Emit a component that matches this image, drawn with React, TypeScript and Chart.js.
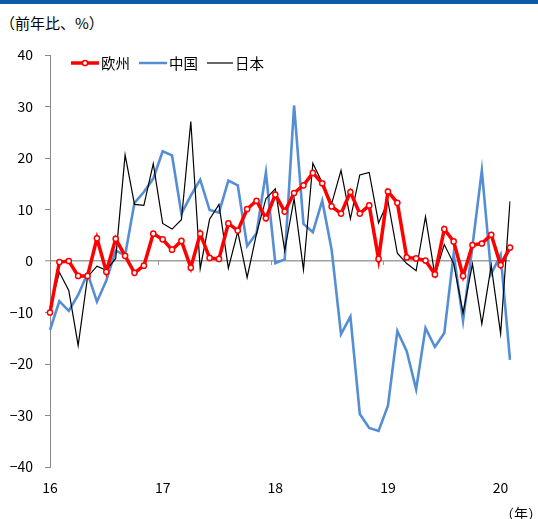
import React, { useEffect, useRef } from "react";
import { Chart, registerables } from "chart.js";

Chart.register(...registerables);

const MONTHS: string[] = [
  "2016-01","2016-02","2016-03","2016-04","2016-05","2016-06","2016-07","2016-08","2016-09","2016-10","2016-11","2016-12",
  "2017-01","2017-02","2017-03","2017-04","2017-05","2017-06","2017-07","2017-08","2017-09","2017-10","2017-11","2017-12",
  "2018-01","2018-02","2018-03","2018-04","2018-05","2018-06","2018-07","2018-08","2018-09","2018-10","2018-11","2018-12",
  "2019-01","2019-02","2019-03","2019-04","2019-05","2019-06","2019-07","2019-08","2019-09","2019-10","2019-11","2019-12",
  "2020-01","2020-02",
];

const EUROPE: number[] = [
  -10, -0.2, 0, -2.9, -2.9, 4.4, -2.1, 4.3, 1.0, -2.3,
  -0.9, 5.3, 4.2, 2.2, 3.9, -1.3, 5.3, 0.6, 0.4, 7.3,
  5.9, 10.1, 11.7, 8.3, 12.9, 9.6, 13.2, 14.7, 17.1, 15.1,
  10.6, 9.2, 13.4, 9.2, 10.8, 0.4, 13.5, 11.3, 0.7, 0.5,
  0.1, -2.6, 6.2, 3.8, -2.9, 3.1, 3.4, 5.1, -0.8, 2.6,
];

const CHINA: number[] = [
  -13.4, -7.8, -9.7, -6.6, -2.4, -7.9, -3.8, 2.0, 1.1, 11.3,
  13.4, 16.0, 21.3, 20.5, 9.2, 12.7, 15.8, 9.9, 9.4, 15.6,
  14.7, 2.9, 5.4, 17.2, -0.4, 0.3, 30.2, 7.2, 5.6, 11.7,
  2.2, -14.2, -10.8, -29.7, -32.4, -33.0, -28.1, -13.6, -17.5, -24.9,
  -13.0, -16.7, -14.0, 1.4, -11.6, 2.9, 17.6, -2.5, 1.2, -19.2,
];

const JAPAN: number[] = [
  -9, -2.2, -5.7, -16.4, -3.1, -1.0, -1.8, 0.5, 20.6, 11.0,
  10.8, 18.9, 7.3, 6.2, 8.0, 27.1, -1.5, 8.1, 11.0, -1.4,
  5.7, -3.2, 5.3, 12.1, 14.0, 2.0, 12.1, -1.7, 19.0, 15.2,
  11.1, 17.6, 8.2, 16.7, 17.2, 7.4, 11.6, 1.5, -0.5, -1.9,
  8.6, -2.8, 3.2, -0.5, -10.1, -0.6, -12.2, -0.9, -14.1, 11.6,
];

const SERIES_NAMES = ["欧州", "中国", "日本"];
const Y_MIN = -40;
const Y_MAX = 40;
const Y_STEP = 10;
const YEAR_TICK_EVERY = 12;

const FONT = "'Noto Sans CJK JP', 'Noto Sans', sans-serif";
const RED = "#ff0000";
const BLUE = "#558ed5";
const BLACK = "#000000";

const zeroTicksPlugin = {
  id: "zeroTicks",
  beforeDatasetsDraw(chart: any) {
    const xs = chart.scales.x;
    const ys = chart.scales.y;
    const ctx = chart.ctx;
    const y0 = ys.getPixelForValue(0);
    ctx.save();
    ctx.strokeStyle = "#999";
    ctx.lineWidth = 1;
    for (let k = YEAR_TICK_EVERY; k < MONTHS.length; k += YEAR_TICK_EVERY) {
      const x = Math.round((xs.getPixelForValue(k - 1) + xs.getPixelForValue(k)) / 2) + 0.5;
      ctx.beginPath();
      ctx.moveTo(x, y0);
      ctx.lineTo(x, y0 + 4);
      ctx.stroke();
    }
    ctx.restore();
  },
};

const legendPlugin = {
  id: "customLegend",
  afterDraw(chart: any) {
    const ctx = chart.ctx;
    const area = chart.chartArea;
    const y = area.top + 8;
    let x = area.left + 21;
    ctx.save();
    ctx.font = `14.5px ${FONT}`;
    ctx.textBaseline = "middle";
    chart.data.datasets.forEach((ds: any, i: number) => {
      const segW = i === 2 ? 26 : 28;
      ctx.strokeStyle = ds.borderColor;
      ctx.lineWidth = i === 0 ? 3.5 : i === 1 ? 2.5 : 1.2;
      ctx.beginPath();
      ctx.moveTo(x, y);
      ctx.lineTo(x + segW, y);
      ctx.stroke();
      if (i === 0) {
        ctx.beginPath();
        ctx.arc(x + segW / 2, y, 2.6, 0, Math.PI * 2);
        ctx.fillStyle = "#fff";
        ctx.fill();
        ctx.lineWidth = 1.5;
        ctx.strokeStyle = ds.borderColor;
        ctx.stroke();
      }
      ctx.fillStyle = "#000";
      ctx.fillText(ds.label, x + segW + 2, y + 0.5);
      const tw = ctx.measureText(ds.label).width;
      x += segW + 2 + tw + 9;
    });
    ctx.restore();
  },
};

export default function App() {
  const canvasRef = useRef<HTMLCanvasElement | null>(null);

  useEffect(() => {
    if (!canvasRef.current) return;
    const chart = new Chart(canvasRef.current, {
      type: "line",
      data: {
        labels: MONTHS,
        datasets: [
          {
            label: SERIES_NAMES[0],
            data: EUROPE,
            borderColor: RED,
            backgroundColor: RED,
            borderWidth: 3.5,
            pointRadius: 2.6,
            pointBorderWidth: 1.5,
            pointBackgroundColor: "#ffffff",
            pointBorderColor: RED,
            tension: 0,
            order: 0,
          },
          {
            label: SERIES_NAMES[1],
            data: CHINA,
            borderColor: BLUE,
            backgroundColor: BLUE,
            borderWidth: 2.6,
            pointRadius: 0,
            tension: 0,
            order: 2,
          },
          {
            label: SERIES_NAMES[2],
            data: JAPAN,
            borderColor: BLACK,
            backgroundColor: BLACK,
            borderWidth: 1.2,
            pointRadius: 0,
            tension: 0,
            order: 1,
          },
        ],
      },
      options: {
        responsive: false,
        animation: false,
        layout: { padding: { top: 55, right: 28, bottom: 0, left: 0 } },
        plugins: {
          legend: { display: false },
          tooltip: { enabled: false },
          title: { display: false },
        },
        scales: {
          x: {
            type: "category",
            grid: { display: false, drawTicks: false },
            border: { display: false },
            ticks: {
              autoSkip: false,
              maxRotation: 0,
              minRotation: 0,
              padding: 12,
              color: "#000",
              font: { family: FONT, size: 14 },
              callback: (_v: any, i: number) =>
                i % YEAR_TICK_EVERY === 0 ? MONTHS[i].slice(2, 4) : "",
            },
            afterFit: (s: any) => {
              s.height = 52;
            },
          },
          y: {
            min: Y_MIN,
            max: Y_MAX,
            ticks: {
              stepSize: Y_STEP,
              padding: 12,
              color: "#000",
              font: { family: FONT, size: 14 },
              callback: (v: any) => (Number(v) < 0 ? "\u2212" + Math.abs(Number(v)) : String(v)),
            },
            grid: {
              color: (c: any) => (c.tick && c.tick.value === 0 ? "#a0a0a0" : "rgba(0,0,0,0)"),
              lineWidth: (c: any) => (c.tick && c.tick.value === 0 ? 1.5 : 1),
              tickColor: "#888",
              tickLength: 5,
              tickWidth: 1,
            },
            border: { display: true, color: "#888", width: 1 },
            afterFit: (s: any) => {
              s.width = 50;
            },
          },
        },
      },
      plugins: [zeroTicksPlugin, legendPlugin],
    });
    return () => chart.destroy();
  }, []);

  return (
    <div style={{ position: "fixed", left: 0, top: 0, width: 538, height: 519, background: "#fff", fontFamily: FONT, overflow: "hidden" }}>
      <div style={{ position: "absolute", left: 0, top: 0, width: 538, height: 4, background: "#0a5aa8" }} />
      <div style={{ position: "absolute", left: 0, top: 13, fontSize: 15, lineHeight: "20px", color: "#000", whiteSpace: "nowrap" }}>
        （前年比、%）
      </div>
      <canvas ref={canvasRef} width={538} height={519} style={{ position: "absolute", left: 0, top: 0, display: "block" }} />
      <div style={{ position: "absolute", left: 500, top: 503, fontSize: 14, lineHeight: "20px", color: "#000", whiteSpace: "nowrap" }}>
        （年）
      </div>
    </div>
  );
}
